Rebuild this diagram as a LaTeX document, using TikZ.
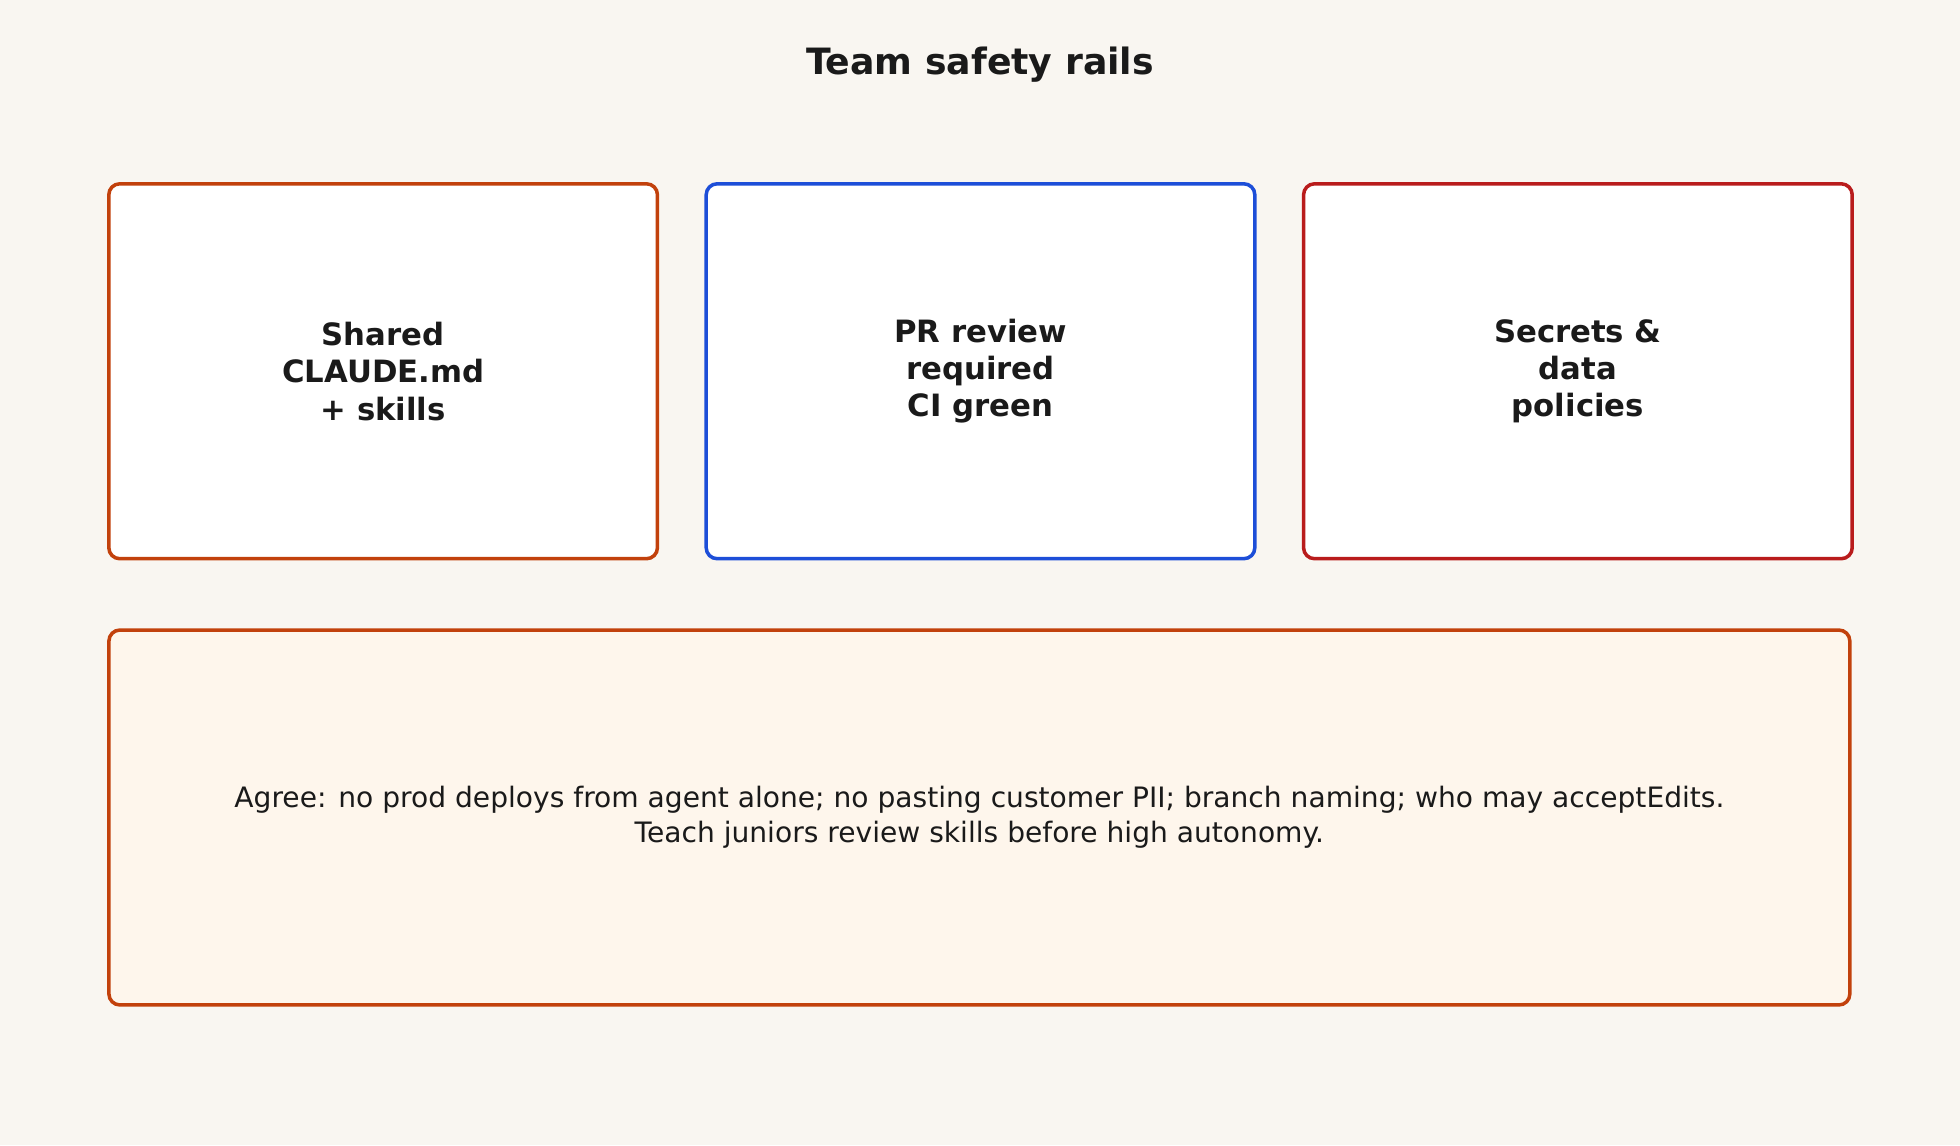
\documentclass[tikz,border=0pt]{standalone}
\usepackage{fontspec}
\setmainfont{DejaVu Sans}
\usetikzlibrary{positioning}
\definecolor{bgcol}{HTML}{F9F6F1}
\definecolor{orangeline}{HTML}{C2410C}
\definecolor{blueline}{HTML}{1D4ED8}
\definecolor{redline}{HTML}{B91C1C}
\definecolor{notefill}{HTML}{FEF6EC}
\definecolor{inkcol}{HTML}{1A1A1A}
\begin{document}
\begin{tikzpicture}
  [x=0.02cm,y=-0.02cm,node distance=0.78cm,text=inkcol,
   rail/.style={draw,line width=1.6pt,rounded corners=5pt,fill=white,outer sep=0pt,
     minimum width=8.78cm,minimum height=6cm,align=center,
     font=\fontsize{14}{17}\selectfont\bfseries},
   note/.style={rail,fill=notefill,minimum width=27.86cm,
     font=\fontsize{12.8}{16}\selectfont}]

  \fill [bgcol] (0,0) rectangle (1568,916);

  \node (title) at (784,52) {\fontsize{16.5}{19}\selectfont\bfseries Team safety rails};

  % rails
  \node [rail,draw=orangeline] (shared) at (306.5,297) {Shared\\CLAUDE.md\\+ skills};
  \node [rail,draw=blueline] (review) [right=of shared] {PR review\\required\\CI green};
  \node [rail,draw=redline] (secrets) [right=of review] {Secrets \&\\data\\policies};

  \node [note,draw=orangeline] (agree) at (783.5,654)
    {Agree: no prod deploys from agent alone; no pasting customer PII; branch naming; who may acceptEdits.\\
     Teach juniors review skills before high autonomy.};
\end{tikzpicture}
\end{document}
